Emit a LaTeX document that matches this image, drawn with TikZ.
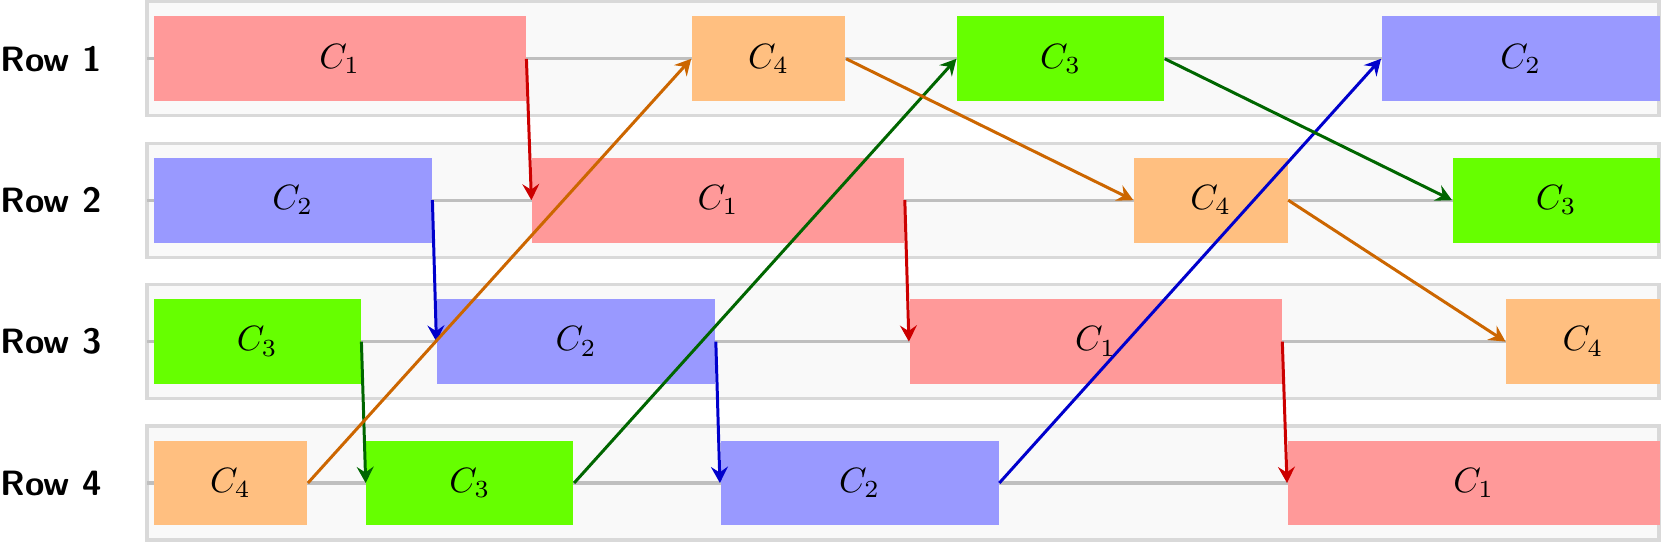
\documentclass[tikz,border=0pt]{standalone}
\usepackage{tikz}
\usetikzlibrary{arrows.meta}

\definecolor{chunkgreen}{RGB}{102,255,0}

\tikzset{
  rowframe/.style={draw=gray!30, fill=gray!5, line width=0.9pt},
  midline/.style={draw=gray!50, line width=0.9pt},
  rowlabel/.style={anchor=west, inner sep=0pt, font=\sffamily\bfseries},
  chunk/.style={anchor=west, inner sep=0pt, minimum height=0.847cm},
  chunkone/.style={chunk, fill=red!40, minimum width=3.72cm},
  chunktwo/.style={chunk, fill=blue!40, minimum width=2.78cm},
  chunkthree/.style={chunk, fill=chunkgreen, minimum width=2.07cm},
  chunkfour/.style={chunk, fill=orange!50, minimum width=1.535cm},
  pass/.style={line width=0.85pt, -{Stealth[length=4.6pt, width=4.8pt, inset=1.6pt]}},
}

\begin{document}
\begin{tikzpicture}
\useasboundingbox (0,0) rectangle (16.61,5.42);

% Row backgrounds and time lines
\draw[rowframe] (1.47,4.262) rectangle (16.59,5.402);
\draw[rowframe] (1.47,2.848) rectangle (16.59,3.988);
\draw[rowframe] (1.47,1.434) rectangle (16.59,2.574);
\draw[rowframe] (1.47,0.020) rectangle (16.59,1.160);
\draw[midline] (1.47,4.832) -- (16.59,4.832);
\draw[midline] (1.47,3.418) -- (16.59,3.418);
\draw[midline] (1.47,2.004) -- (16.59,2.004);
\draw[midline] (1.47,0.590) -- (16.59,0.590);

% Row labels
\node[rowlabel] (lab1) at (0,4.832) {Row~1};
\node[rowlabel] (lab2) at (0,3.418) {Row~2};
\node[rowlabel] (lab3) at (0,2.004) {Row~3};
\node[rowlabel] (lab4) at (0,0.590) {Row~4};

% Row 1
\node[chunkone]   (r1c1) at (1.53,4.832)  {$C_1$};
\node[chunkfour]  (r1c4) at (6.912,4.832) {$C_4$};
\node[chunkthree] (r1c3) at (9.564,4.832) {$C_3$};
\node[chunktwo]   (r1c2) at (13.81,4.832) {$C_2$};

% Row 2
\node[chunktwo]   (r2c2) at (1.53,3.418)   {$C_2$};
\node[chunkone]   (r2c1) at (5.314,3.418)  {$C_1$};
\node[chunkfour]  (r2c4) at (11.333,3.418) {$C_4$};
\node[chunkthree] (r2c3) at (14.52,3.418)  {$C_3$};

% Row 3
\node[chunkthree] (r3c3) at (1.53,2.004)   {$C_3$};
\node[chunktwo]   (r3c2) at (4.364,2.004)  {$C_2$};
\node[chunkone]   (r3c1) at (9.089,2.004)  {$C_1$};
\node[chunkfour]  (r3c4) at (15.055,2.004) {$C_4$};

% Row 4
\node[chunkfour]  (r4c4) at (1.53,0.590)  {$C_4$};
\node[chunkthree] (r4c3) at (3.657,0.590) {$C_3$};
\node[chunktwo]   (r4c2) at (7.199,0.590) {$C_2$};
\node[chunkone]   (r4c1) at (12.87,0.590) {$C_1$};

% Passing C1 on
\draw[pass, red!80!black] (r1c1.east) -- (r2c1.west);
\draw[pass, red!80!black] (r2c1.east) -- (r3c1.west);
\draw[pass, red!80!black] (r3c1.east) -- (r4c1.west);

% Passing C2 on
\draw[pass, blue!80!black] (r2c2.east) -- (r3c2.west);
\draw[pass, blue!80!black] (r3c2.east) -- (r4c2.west);
\draw[pass, blue!80!black] (r4c2.east) -- (r1c2.west);

% Passing C3 on
\draw[pass, green!40!black] (r3c3.east) -- (r4c3.west);
\draw[pass, green!40!black] (r4c3.east) -- (r1c3.west);
\draw[pass, green!40!black] (r1c3.east) -- (r2c3.west);

% Passing C4 on
\draw[pass, orange!80!black] (r4c4.east) -- (r1c4.west);
\draw[pass, orange!80!black] (r1c4.east) -- (r2c4.west);
\draw[pass, orange!80!black] (r2c4.east) -- (r3c4.west);

\end{tikzpicture}
\end{document}
